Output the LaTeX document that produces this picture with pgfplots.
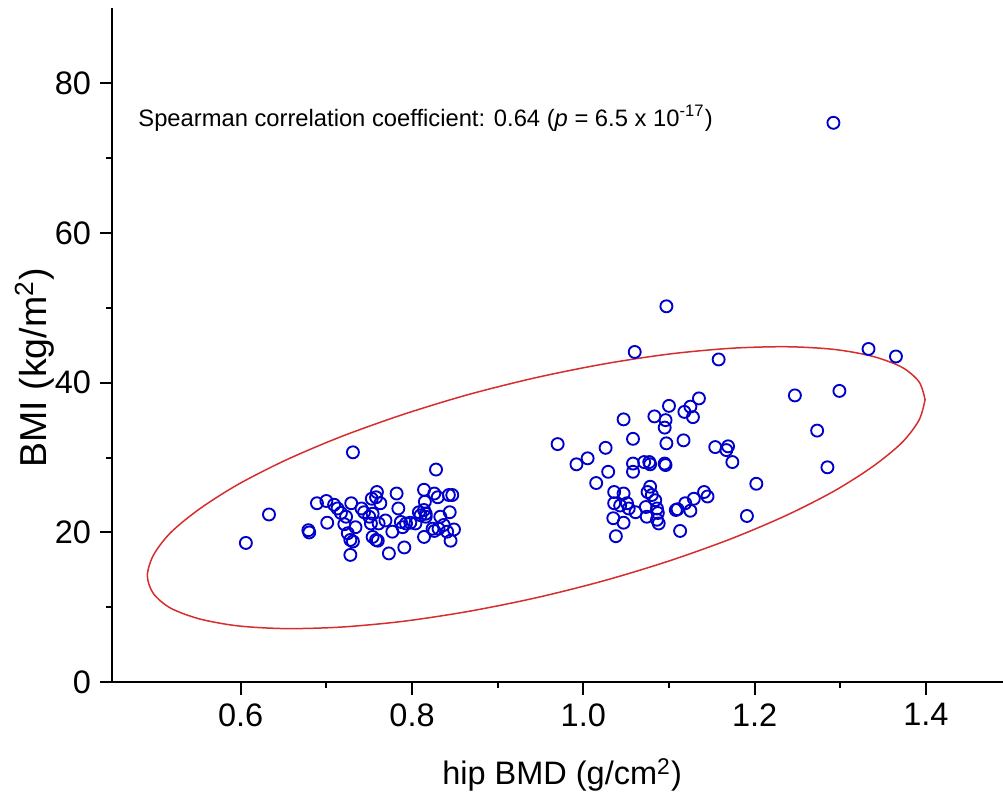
\documentclass[border=0pt]{standalone}
\usepackage{fontspec}
\setmainfont{Liberation Sans}
\usepackage{pgfplots}
\pgfplotsset{compat=1.18}
\definecolor{ptblue}{RGB}{0,0,205}
\definecolor{ellred}{RGB}{215,45,45}

\begin{document}
\begin{tikzpicture}
\begin{axis}[
  scale only axis,
  width=356.3pt, height=269.6pt,
  xmin=0.45, xmax=1.49, ymin=0, ymax=90,
  axis x line=bottom, axis y line=left,
  axis line style={-, line width=0.8pt},
  xtick={0.6,0.8,1.0,1.2,1.4},
  ytick={0,20,40,60,80},
  minor x tick num=1, minor y tick num=1,
  tick align=outside,
  major tick length=5pt, minor tick length=2.5pt,
  tick style={line width=0.8pt, black},
  /pgf/number format/assume math mode=true,
  xticklabel style={/pgf/number format/.cd, fixed, fixed zerofill, precision=1, /tikz/.cd},
  tick label style={font=\fontsize{13}{15}\selectfont},
  clip=false,
]
  % confidence ellipse
  \addplot[ellred, line width=0.6pt, smooth, mark=none] coordinates {
    (1.399,37.74) (1.392,40.11) (1.372,42.06) (1.338,43.51) (1.293,44.44)
    (1.237,44.80) (1.172,44.59) (1.100,43.82) (1.024,42.50) (0.945,40.68)
    (0.866,38.42) (0.790,35.77) (0.718,32.83) (0.653,29.68) (0.597,26.42)
    (0.552,23.15) (0.518,19.96) (0.498,16.95) (0.491,14.22) (0.498,11.85)
    (0.518,9.90) (0.552,8.45) (0.597,7.52) (0.653,7.16) (0.718,7.37)
    (0.790,8.14) (0.866,9.46) (0.945,11.28) (1.024,13.55) (1.100,16.19)
    (1.172,19.13) (1.237,22.28) (1.293,25.54) (1.338,28.81) (1.372,32.00)
    (1.392,35.01) (1.399,37.74)
  };

  % data points
  \addplot[only marks, mark=o, mark size=2.4pt, draw=ptblue,
           mark options={line width=0.75pt, draw=ptblue}] coordinates {
    (0.606,18.6) (0.633,22.4) (0.679,20.3) (0.680,20.0) (0.731,30.7)
    (0.828,28.4) (0.689,23.9) (0.700,24.2) (0.709,23.7) (0.713,23.2)
    (0.717,22.6) (0.701,21.3) (0.723,22.1) (0.721,21.1) (0.725,19.9)
    (0.728,19.0) (0.731,18.8) (0.728,17.0) (0.729,23.9) (0.734,20.7)
    (0.741,23.2) (0.744,22.7) (0.750,22.1) (0.752,21.2) (0.754,22.5)
    (0.758,24.7) (0.759,25.4) (0.753,24.5) (0.763,23.9) (0.761,21.2)
    (0.754,19.4) (0.758,19.0) (0.760,18.9) (0.769,21.6) (0.773,17.2)
    (0.777,20.1) (0.782,25.2) (0.784,23.2) (0.787,21.4) (0.793,21.2)
    (0.798,21.3) (0.804,21.2) (0.791,18.0) (0.789,20.7) (0.808,22.7)
    (0.810,22.3) (0.816,22.5) (0.814,23.0) (0.814,25.7) (0.815,24.1)
    (0.816,22.1) (0.826,25.2) (0.830,24.7) (0.833,22.1) (0.831,20.5)
    (0.824,20.5) (0.826,20.2) (0.814,19.4) (0.837,21.0) (0.841,20.1)
    (0.843,25.0) (0.847,25.0) (0.844,22.7) (0.849,20.4) (0.845,18.9)
    (1.097,50.2) (1.060,44.1) (1.158,43.1) (1.135,37.9) (1.100,36.9)
    (1.125,36.8) (1.118,36.1) (1.128,35.4) (1.083,35.5) (1.047,35.1)
    (1.096,35.0) (1.095,34.0) (1.058,32.5) (1.117,32.3) (0.970,31.8)
    (1.097,31.9) (1.154,31.4) (1.169,31.5) (1.167,31.0) (1.174,29.4)
    (1.026,31.3) (1.005,29.9) (0.992,29.1) (1.071,29.4) (1.077,29.4)
    (1.078,29.1) (1.095,29.2) (1.096,29.0) (1.058,29.2) (1.058,28.1)
    (1.029,28.1) (1.015,26.6) (1.202,26.5) (1.036,25.4) (1.047,25.2)
    (1.078,26.1) (1.075,25.4) (1.080,25.0) (1.084,24.3) (1.141,25.4)
    (1.145,24.8) (1.129,24.5) (1.119,23.9) (1.036,23.9) (1.043,23.6)
    (1.051,23.9) (1.053,23.2) (1.061,22.7) (1.073,23.4) (1.086,23.2)
    (1.087,22.6) (1.108,23.0) (1.110,23.1) (1.125,22.9) (1.035,21.9)
    (1.047,21.3) (1.074,22.1) (1.086,21.7) (1.088,21.2) (1.038,19.5)
    (1.113,20.2) (1.191,22.2)
    (1.333,44.5) (1.365,43.5) (1.247,38.3) (1.299,38.9) (1.273,33.6)
    (1.285,28.7) (1.292,74.7)
  };

  \node[anchor=west, font=\fontsize{9.5}{11}\selectfont, inner sep=0pt]
    at (axis cs:0.480,75.3)
    {Spearman correlation coefficient: 0.64 ({\itshape p} = 6.5 x 10\textsuperscript{-17})};
\end{axis}

\node[font=\fontsize{13}{15}\selectfont] at ([xshift=1.8pt, yshift=-37.1pt]current axis.south)
  {hip BMD (g/cm\textsuperscript{2})};
\node[rotate=90, font=\fontsize{15}{17}\selectfont] at ([xshift=-30.9pt, yshift=-9pt]current axis.west)
  {BMI (kg/m\textsuperscript{2})};

\pgfresetboundingbox
\path ([xshift=-44.9pt, yshift=-50.7pt]current axis.south west) rectangle ([yshift=3.3pt]current axis.north east);
\end{tikzpicture}
\end{document}
